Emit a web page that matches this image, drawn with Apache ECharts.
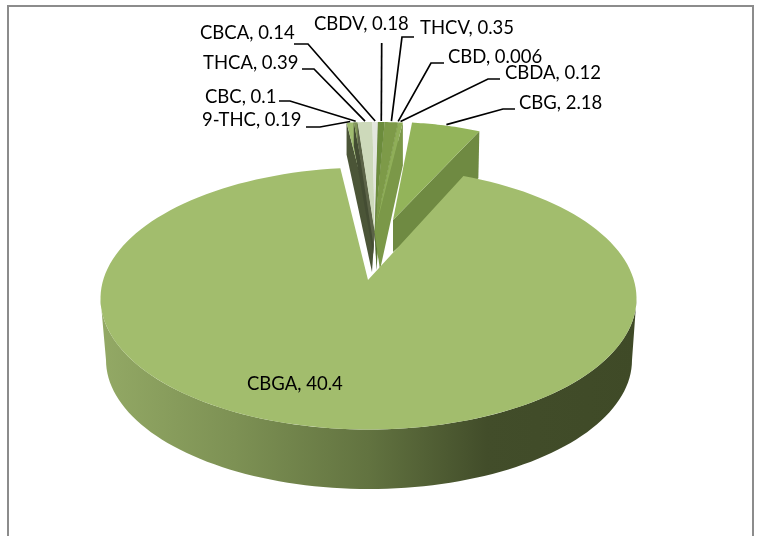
<!DOCTYPE html>
<html>
<head>
<meta charset="utf-8">
<style>html,body{margin:0;padding:0;background:#fff}#c{width:759px;height:536px}</style>
<script src="https://cdn.jsdelivr.net/npm/echarts@6/dist/echarts.min.js"></script>
</head>
<body>
<div id="c"></div>
<script>
// ---- data ----
var categories = ['9-THC','CBC','THCA','CBCA','CBDV','THCV','CBD','CBDA','CBG','CBGA'];
var values     = [0.19,0.1,0.39,0.14,0.18,0.35,0.006,0.12,2.18,40.4];

// ---- styling ----
var topColors  = ['#a0bc70','#7f9457','#cdd9ba','#e3e6de','#6c8c3c','#7d9a48','#76933f','#8fae58','#93b45a','#a2bd6d'];
var wallColors = ['#4b5537','#444d33','#5b6347','#6b6b6b','#56722e','#6f8c3f','#6f8c3f','#7b9848','#6f8a42',null];
var startAngle = -6.03;

// ---- projection of each pie group: arc ellipse, wedge tip, depth ----
var smallGeo = {cx:374.7,cy:232,rx:268,ry:110,tipX:374.7,tipY:232,depthLeft:32,depthRight:43};
var cbgGeo   = {cx:388.4,cy:231,rx:225,ry:109,tipX:393,tipY:220,depthOuter:47,depthTip:32};
var mainGeo  = {cx:368.5,cy:298.5,rx:268,ry:131,tipX:368,tipY:280,startTrim:-3.1,
                lowCx:369,lowCy:360,lowRx:263,lowRy:129};
var leftBottomTip  = [372,272];
var rightBottomTip = [380,270];

// ---- label placement: [text x, text y, knee x, knee y, end x] ----
var labelPlaces = [
  [202,120,320,127,306],
  [205, 97,290,101,279],
  [203, 63,314, 69,302],
  [200, 33,308, 44,294],
  [314, 24,381.7,43,381.7],
  [420, 28,402, 37,414],
  [448, 57,431, 63,444],
  [505, 73,488, 79,500],
  [519,103,503,109,515],
  [247,384]
];
var labelFont = '18.5px Lato, Carlito, sans-serif';

var total = values.reduce(function(a,b){return a+b;},0);
var spans = [], acc = startAngle;
values.forEach(function(v){ var s = v/total*360; spans.push([acc,acc+s]); acc += s; });

function rad(d){return d*Math.PI/180;}
function pt(g,deg){return [g.cx+g.rx*Math.sin(rad(deg)), g.cy-g.ry*Math.cos(rad(deg))];}
function arc(g,a,b,n){var o=[];for(var i=0;i<=n;i++){o.push(pt(g,a+(b-a)*i/n));}return o;}
function geoOf(i){return i===categories.length-1?mainGeo:(i===categories.length-2?cbgGeo:smallGeo);}

function renderSlice(params,api){
  var i = params.dataIndex, v = api.value(0);
  var a = spans[i][0], b = a + v/total*360, ch = [];
  if(i===categories.length-1){
    var g = mainGeo, s = a + g.startTrim;
    var low = {cx:g.lowCx,cy:g.lowCy,rx:g.lowRx,ry:g.lowRy};
    var wall = arc(g,90,270,90).concat(arc(low,270,90,90));
    ch.push({type:'polygon',shape:{points:wall},style:{fill:{type:'linear',x:0,y:0,x2:1,y2:0,colorStops:[
      {offset:0,color:'#93a965'},{offset:0.25,color:'#7d9154'},{offset:0.5,color:'#627340'},
      {offset:0.72,color:'#424d2a'},{offset:1,color:'#3f4a27'}]}}});
    var e = pt(g,b);
    ch.push({type:'polyline',shape:{points:[[g.tipX,g.tipY],e]},style:{stroke:'#fff',lineWidth:8,fill:null}});
    ch.push({type:'polygon',shape:{points:[[g.tipX,g.tipY]].concat(arc(g,s,b,160))},style:{fill:topColors[i]}});
  } else if(i===categories.length-2){
    var c = cbgGeo, p = pt(c,b);
    ch.push({type:'polygon',shape:{points:[p,[c.tipX,c.tipY],[c.tipX,c.tipY+c.depthTip],[p[0]-1,p[1]+c.depthOuter]]},style:{fill:wallColors[i]}});
    ch.push({type:'polygon',shape:{points:[[c.tipX,c.tipY]].concat(arc(c,a,b,24))},style:{fill:topColors[i]}});
  } else {
    var m = smallGeo, left = (a+b)/2<0, ang = left?a:b;
    var edge = pt(m,ang), bt = left?leftBottomTip:rightBottomTip;
    // walls of the inner wedges close to the view axis are seen almost edge-on
    var k = Math.pow(Math.abs(ang)/Math.abs(startAngle),2);
    if(left){ k = Math.max(k,0.04); }
    var d = left?m.depthLeft:m.depthRight;
    var tipBottom = [m.tipX+(bt[0]-m.tipX)*Math.max(k,0.35), m.tipY+(bt[1]-m.tipY)*Math.max(k,0.35)+(k<0.35?(bt[1]-m.tipY)*0.65:0)];
    var wallPts = [edge,[m.tipX,m.tipY],tipBottom,[edge[0],edge[1]+d*Math.sqrt(k)]];
    var face = {type:'polygon',shape:{points:[[m.tipX,m.tipY]].concat(arc(m,a,b,6))},style:{fill:topColors[i]}};
    var side = {type:'polygon',shape:{points:wallPts},style:{fill:wallColors[i]}};
    ch = [side,face];
  }
  return {type:'group',children:ch};
}

function renderLabel(params,api){
  var i = params.dataIndex, g = geoOf(i), pl = labelPlaces[i], ch = [];
  var txt = categories[i]+', '+api.value(0);
  if(pl.length>2){
    var a = spans[i][0], m = a + api.value(0)/total*180, s = pt(g,m);
    ch.push({type:'polyline',shape:{points:[[s[0],s[1]-1],[pl[2],pl[3]],[pl[4],pl[3]]]},style:{stroke:'#000',lineWidth:1.7,fill:null}});
  }
  ch.push({type:'text',style:{text:txt,x:pl[0],y:pl[1],fill:'#000',font:labelFont,textAlign:'left',textVerticalAlign:'middle'}});
  return {type:'group',children:ch};
}

var chart = echarts.init(document.getElementById('c'),null,{renderer:'canvas'});
var rows = values.map(function(v,i){return {name:categories[i],value:[v]};});
chart.setOption({
  backgroundColor:'#fff',
  animation:false,
  graphic:[{type:'rect',silent:true,z:-1,shape:{x:8,y:6,width:745,height:600},style:{fill:'#fff',stroke:'#8c8c8c',lineWidth:2}}],
  series:[
    {type:'custom',coordinateSystem:'none',silent:true,z:2,renderItem:renderSlice,data:rows},
    {type:'custom',coordinateSystem:'none',silent:true,z:3,renderItem:renderLabel,data:rows}
  ]
});
</script>
</body>
</html>
